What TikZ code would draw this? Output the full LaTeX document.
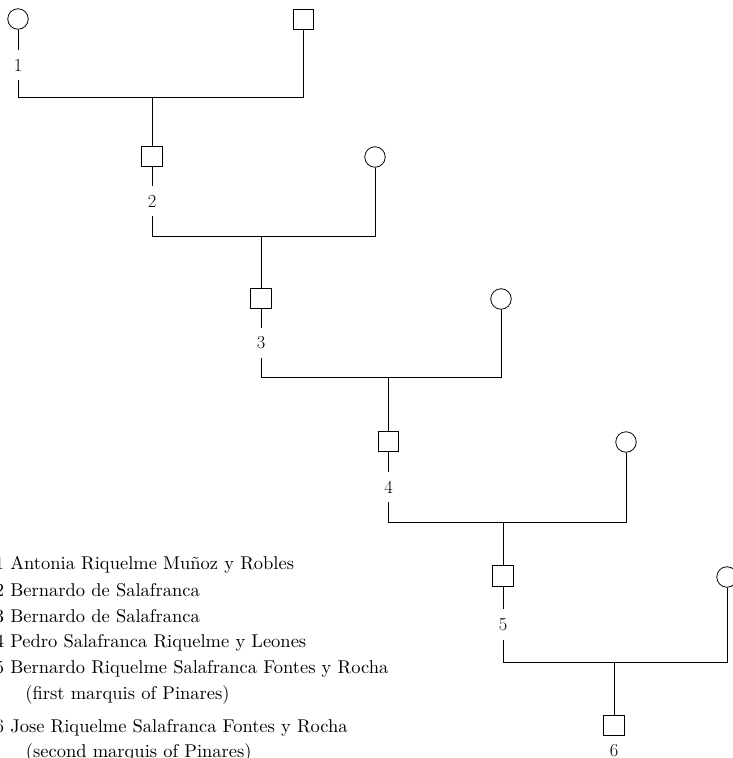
\documentclass[tikz,border=0pt]{standalone}
\usepackage{fontspec}
\newfontfamily\keyfont{lmroman10-regular}[Extension=.otf]
\usetikzlibrary{positioning}

\begin{document}
\begin{tikzpicture}[x=1pt,y=-1pt,line width=0.8pt,
  male/.style={draw,rectangle,minimum size=20.5pt,inner sep=0pt},
  female/.style={draw,circle,minimum size=20.5pt,inner sep=0pt},
  num/.style={inner sep=0pt,font=\fontsize{18.4}{22}\selectfont},
  gen/.style={num,minimum height=30pt},
  legend/.style={anchor=base west,inner sep=0pt,font=\keyfont\fontsize{18.5}{22}\selectfont}]
  \useasboundingbox (0,0) rectangle (733,758);
  \clip (0,0) rectangle (733,758);
  % first couple
  \node[female] (f1) at (18,19){};
  \node[male] (m1) at (303.5,19.5){};
  \node[gen] (n1) at (18,65){1};
  \coordinate (j1) at (152,97);
  \draw (f1)--(n1);
  \draw (n1)--(n1|-j1)--(m1|-j1)--(m1);
  % generation 2
  \node[male] (p2) at (152,156.5){};
  \node[female] (w2) at (375,157){};
  \node[gen] (n2) at (152,201){2};
  \coordinate (j2) at (261,236);
  \draw (j1)--(p2);\draw (p2)--(n2);
  \draw (n2)--(n2|-j2)--(w2|-j2)--(w2);
  % generation 3
  \node[male] (p3) at (261,298.5){};
  \node[female] (w3) at (501,299){};
  \node[gen] (n3) at (261,343){3};
  \coordinate (j3) at (388.5,377);
  \draw (j2)--(p3);\draw (p3)--(n3);
  \draw (n3)--(n3|-j3)--(w3|-j3)--(w3);
  % generation 4
  \node[male] (p4) at (388.5,441.5){};
  \node[female] (w4) at (626,442){};
  \node[gen] (n4) at (388.5,487){4};
  \coordinate (j4) at (503,522);
  \draw (j3)--(p4);\draw (p4)--(n4);
  \draw (n4)--(n4|-j4)--(w4|-j4)--(w4);
  % generation 5
  \node[male] (p5) at (503,576){};
  \node[female] (w5) at (727,577){};
  \node[gen] (n5) at (503,624.5){5};
  \coordinate (j5) at (614,662);
  \draw (j4)--(p5);\draw (p5)--(n5);
  \draw (n5)--(n5|-j5)--(w5|-j5)--(w5);
  % generation 6
  \node[male] (p6) at (614,725.5){};
  \node[num,below=8pt of p6] (n6){6};
  \draw (j5)--(p6);
  % key
  \node[legend] (k1) at (-5.5,569){1 Antonia Riquelme Muñoz y Robles};
  \node[legend] (k2) at (-5.5,596){2 Bernardo de Salafranca};
  \node[legend] (k3) at (-5.5,622){3 Bernardo de Salafranca};
  \node[legend] (k4) at (-5.5,647){4 Pedro Salafranca Riquelme y Leones};
  \node[legend] (k5) at (-5.5,673){5 Bernardo Riquelme Salafranca Fontes y Rocha};
  \node[legend] (k5b) at (25,699){(first marquis of Pinares)};
  \node[legend] (k6) at (-5.5,732){6 Jose Riquelme Salafranca Fontes y Rocha};
  \node[legend] (k6b) at (25.5,757){(second marquis of Pinares)};
\end{tikzpicture}
\end{document}
